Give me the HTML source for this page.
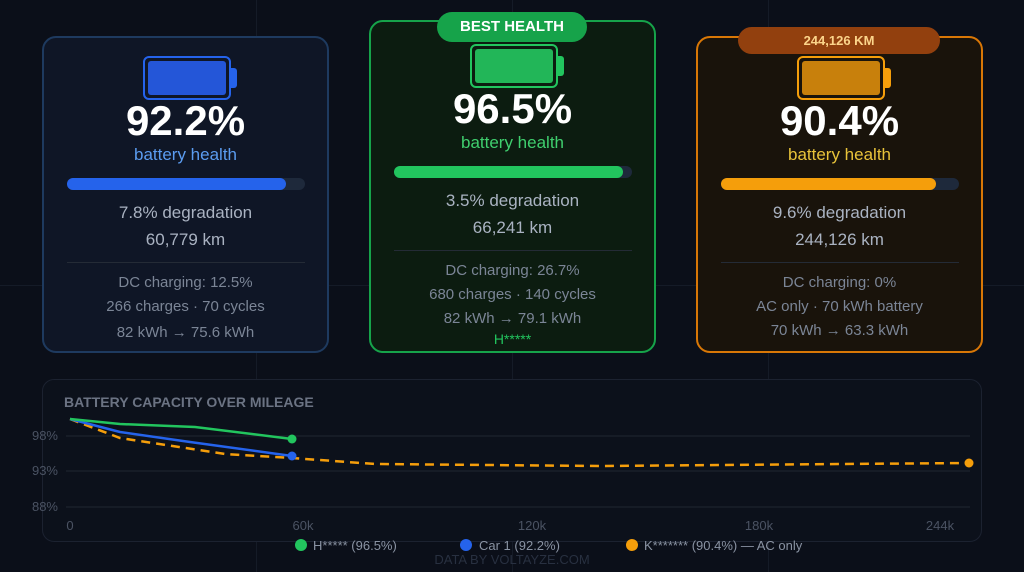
<!DOCTYPE html>
<html><head><style>
*{margin:0;padding:0;box-sizing:border-box}
body{width:1024px;height:572px;background:#0b0f19;font-family:"Liberation Sans",sans-serif;position:relative;overflow:hidden}
.g{position:absolute;background:#151b27}
.card{position:absolute;width:287px;border-radius:14px;border:2px solid}
.t{position:absolute;left:0;width:100%;text-align:center;white-space:nowrap}
.big{font-size:42px;font-weight:bold;color:#fff}
.bh{font-size:17px}
.m{font-size:17px;color:#aab3c2}
.s{font-size:15px;color:#7b8596}
.bar{position:absolute;left:23px;width:238px;height:12px;border-radius:6px;background:#1e293b}
.bar div{height:12px;border-radius:6px}
.div{position:absolute;left:23px;width:238px;height:1px;background:#242b36}
.bat{position:absolute;left:99px;width:88px;height:44px;border:2px solid;border-radius:6px;padding:3px}
.bat i{display:block;height:100%;border-radius:3px}
.tip{position:absolute;width:8px;height:20px;border-radius:0 3px 3px 0}
.pill{position:absolute;text-align:center;border-radius:16px;font-weight:bold}
</style></head><body>
<div class="g" style="left:256px;top:0;width:1px;height:572px"></div>
<div class="g" style="left:512px;top:0;width:1px;height:572px"></div>
<div class="g" style="left:768px;top:0;width:1px;height:572px"></div>
<div class="g" style="left:0;top:285px;width:1024px;height:1px"></div>

<div class="card" style="left:42px;top:36px;height:317px;background:#0f1626;border-color:#1e3a5f">
 <div class="bat" style="top:18px;border-color:#2563eb"><i style="background:#2456d8"></i></div>
 <div class="tip" style="left:185px;top:30px;background:#2563eb"></div>
 <div class="t big" style="top:59px">92.2%</div>
 <div class="t bh" style="top:107px;color:#5b9cf0">battery health</div>
 <div class="bar" style="top:140px"><div style="width:219px;background:#2563eb"></div></div>
 <div class="t m" style="top:165px">7.8% degradation</div>
 <div class="t m" style="top:192px">60,779 km</div>
 <div class="div" style="top:224px"></div>
 <div class="t s" style="top:236px">DC charging: 12.5%</div>
 <div class="t s" style="top:260px">266 charges · 70 cycles</div>
 <div class="t s" style="top:286px">82 kWh → 75.6 kWh</div>
</div>

<div class="card" style="left:369px;top:20px;height:333px;background:#0c1c10;border-color:#16a34a">
 <div class="bat" style="top:22px;border-color:#22c55e"><i style="background:#22b658"></i></div>
 <div class="tip" style="left:185px;top:34px;background:#22c55e"></div>
 <div class="t big" style="top:63px">96.5%</div>
 <div class="t bh" style="top:111px;color:#3fcf6e">battery health</div>
 <div class="bar" style="top:144px"><div style="width:229px;background:#22c55e"></div></div>
 <div class="t m" style="top:169px">3.5% degradation</div>
 <div class="t m" style="top:196px">66,241 km</div>
 <div class="div" style="top:228px"></div>
 <div class="t s" style="top:240px">DC charging: 26.7%</div>
 <div class="t s" style="top:264px">680 charges · 140 cycles</div>
 <div class="t s" style="top:288px">82 kWh → 79.1 kWh</div>
 <div class="t" style="top:309px;font-size:14px;color:#22c55e">H*****</div>
</div>
<div class="pill" style="left:437px;top:12px;width:150px;height:30px;line-height:30px;background:#16a34a;color:#fff;font-size:15px">BEST HEALTH</div>

<div class="card" style="left:696px;top:36px;height:317px;background:#19130b;border-color:#d97706">
 <div class="bat" style="top:18px;border-color:#f59e0b"><i style="background:#c8800c"></i></div>
 <div class="tip" style="left:185px;top:30px;background:#f59e0b"></div>
 <div class="t big" style="top:59px">90.4%</div>
 <div class="t bh" style="top:107px;color:#e8c33a">battery health</div>
 <div class="bar" style="top:140px"><div style="width:215px;background:#f59e0b"></div></div>
 <div class="t m" style="top:165px">9.6% degradation</div>
 <div class="t m" style="top:192px">244,126 km</div>
 <div class="div" style="top:224px"></div>
 <div class="t s" style="top:236px">DC charging: 0%</div>
 <div class="t s" style="top:260px">AC only · 70 kWh battery</div>
 <div class="t s" style="top:284px">70 kWh → 63.3 kWh</div>
</div>
<div class="pill" style="left:738px;top:27px;width:202px;height:27px;line-height:27px;background:#92400e;color:#fcd48a;font-size:13px">244,126 KM</div>

<div style="position:absolute;left:42px;top:379px;width:940px;height:163px;border:1px solid #1c2230;border-radius:12px;background:#0c111b"></div>
<svg style="position:absolute;left:0;top:0" width="1024" height="572" font-family="Liberation Sans, sans-serif">
 <text x="64" y="407" font-size="14" font-weight="bold" fill="#6b7383">BATTERY CAPACITY OVER MILEAGE</text>
 <g stroke="#1f2631" stroke-width="1">
  <line x1="66" y1="436" x2="970" y2="436"/><line x1="66" y1="471" x2="970" y2="471"/><line x1="66" y1="507" x2="970" y2="507"/>
 </g>
 <g font-size="13" fill="#4b5363" text-anchor="end">
  <text x="58" y="440">98%</text><text x="58" y="475">93%</text><text x="58" y="511">88%</text>
 </g>
 <g font-size="13" fill="#4b5363" text-anchor="middle">
  <text x="70" y="530">0</text><text x="303" y="530">60k</text><text x="532" y="530">120k</text><text x="759" y="530">180k</text><text x="940" y="530">244k</text>
 </g>
 <polyline fill="none" stroke="#f59e0b" stroke-width="2.5" stroke-dasharray="9,6" points="70,419 120,438 225,454 292,458 375,464 600,466 968,463"/>
 <polyline fill="none" stroke="#2563eb" stroke-width="2.5" points="70,419 120,432 190,442 292,456"/>
 <polyline fill="none" stroke="#22c55e" stroke-width="2.5" points="70,419 120,424 195,427 292,439"/>
 <circle cx="292" cy="439" r="4.5" fill="#22c55e"/>
 <circle cx="292" cy="456" r="4.5" fill="#2563eb"/>
 <circle cx="969" cy="463" r="4.5" fill="#f59e0b"/>
 <g font-size="13" fill="#8a93a3">
  <circle cx="301" cy="545" r="6" fill="#22c55e"/><text x="313" y="550">H***** (96.5%)</text>
  <circle cx="466" cy="545" r="6" fill="#2563eb"/><text x="479" y="550">Car 1 (92.2%)</text>
  <circle cx="632" cy="545" r="6" fill="#f59e0b"/><text x="644" y="550">K******* (90.4%) — AC only</text>
 </g>
 <text x="512" y="564" font-size="13" fill="#283040" text-anchor="middle">DATA BY VOLTAYZE.COM</text>
</svg>
</body></html>
